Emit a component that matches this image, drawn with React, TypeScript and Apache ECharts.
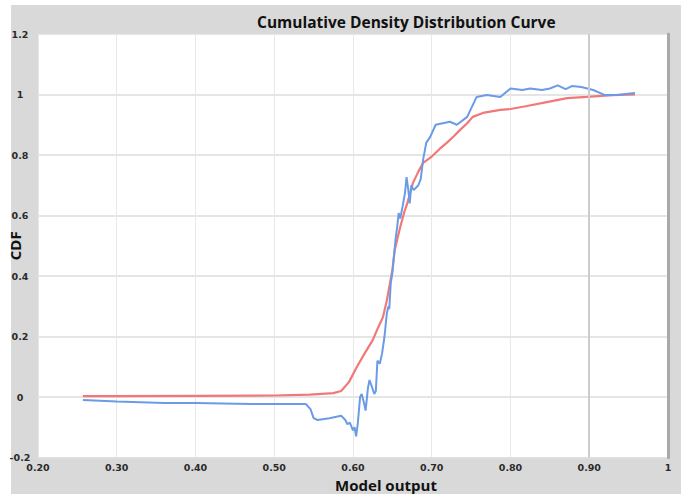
import React, { useEffect, useRef } from "react";
import * as echarts from "echarts";

const titleText = "Cumulative Density Distribution Curve";
const xAxisName = "Model output";
const yAxisName = "CDF";

const xMin = 0.2;
const xMax = 1.0;
const xInterval = 0.1;
const yMin = -0.2;
const yMax = 1.2;
const yInterval = 0.2;

// Red (smooth) CDF curve
const redX = [0.257, 0.3, 0.4, 0.5, 0.545, 0.575, 0.585, 0.595, 0.605, 0.615, 0.625, 0.632, 0.638, 0.643, 0.647, 0.65, 0.653, 0.657, 0.66, 0.665, 0.669, 0.676, 0.683, 0.689, 0.7, 0.71, 0.719, 0.728, 0.736, 0.745, 0.752, 0.765, 0.787, 0.8, 0.821, 0.846, 0.872, 0.897, 0.93, 0.958];
const redY = [0.003, 0.003, 0.004, 0.005, 0.008, 0.013, 0.02, 0.05, 0.1, 0.145, 0.188, 0.23, 0.264, 0.32, 0.377, 0.42, 0.486, 0.53, 0.562, 0.61, 0.641, 0.707, 0.745, 0.774, 0.795, 0.82, 0.84, 0.862, 0.883, 0.905, 0.926, 0.939, 0.949, 0.952, 0.962, 0.975, 0.988, 0.992, 0.998, 1.0];

// Blue (noisy) curve
const blueX = [0.257, 0.3, 0.36, 0.4, 0.47, 0.54, 0.546, 0.55, 0.555, 0.57, 0.585, 0.59, 0.593, 0.596, 0.6, 0.602, 0.604, 0.606, 0.609, 0.611, 0.614, 0.616, 0.619, 0.621, 0.624, 0.627, 0.629, 0.631, 0.634, 0.637, 0.64, 0.643, 0.645, 0.646, 0.648, 0.65, 0.654, 0.656, 0.658, 0.66, 0.663, 0.666, 0.668, 0.67, 0.672, 0.674, 0.677, 0.683, 0.686, 0.689, 0.693, 0.698, 0.705, 0.714, 0.723, 0.732, 0.745, 0.757, 0.77, 0.787, 0.8, 0.815, 0.825, 0.84, 0.85, 0.86, 0.87, 0.878, 0.89, 0.905, 0.92, 0.935, 0.958];
const blueY = [-0.01, -0.015, -0.02, -0.02, -0.023, -0.023, -0.04, -0.07, -0.076, -0.07, -0.062, -0.075, -0.09, -0.085, -0.11, -0.1, -0.13, -0.09, 0.0, 0.01, -0.02, -0.045, 0.03, 0.056, 0.034, 0.01, 0.02, 0.12, 0.11, 0.145, 0.2, 0.277, 0.3, 0.29, 0.377, 0.41, 0.52, 0.56, 0.608, 0.59, 0.63, 0.674, 0.727, 0.69, 0.64, 0.7, 0.684, 0.7, 0.72, 0.784, 0.84, 0.86, 0.9, 0.905, 0.91, 0.9, 0.926, 0.992, 0.998, 0.992, 1.02, 1.015, 1.02, 1.015, 1.02, 1.03, 1.018, 1.028, 1.025, 1.015, 0.998, 0.998, 1.005];

const redData = redX.map((x, i) => [x, redY[i]]);
const blueData = blueX.map((x, i) => [x, blueY[i]]);

export default function App() {
  const ref = useRef<HTMLDivElement>(null);
  useEffect(() => {
    if (!ref.current) return;
    const chart = echarts.init(ref.current, undefined, { renderer: "svg" });
    const labelStyle = {
      fontFamily: "DejaVu Sans",
      fontWeight: "bold" as const,
      fontSize: 9.5,
      color: "#2a2a2a",
    };
    chart.setOption({
      animation: false,
      backgroundColor: "#d9d9d9",
      title: {
        text: titleText,
        left: 252,
        top: 9,
        textStyle: {
          fontFamily: "Open Sans",
          fontWeight: "bold",
          fontSize: 15.5,
          color: "#111",
        },
      },
      graphic: [
        { type: "rect", shape: { x: 0, y: 0, width: 681, height: 5 }, style: { fill: "#ffffff" }, silent: true },
        { type: "rect", shape: { x: 0, y: 0, width: 11, height: 494 }, style: { fill: "#ffffff" }, silent: true },
        {
          type: "text",
          x: 386,
          y: 485,
          style: {
            text: xAxisName,
            fontFamily: "Open Sans",
            fontWeight: "bold",
            fontSize: 15,
            fill: "#111",
            textAlign: "center",
            textVerticalAlign: "middle",
          },
        },
      ],
      grid: {
        left: 38,
        right: 13,
        top: 34,
        bottom: 36.5,
        show: true,
        backgroundColor: "#ffffff",
        borderWidth: 0,
        containLabel: false,
        outerBoundsMode: "none",
      },
      xAxis: {
        type: "value",
        min: xMin,
        max: xMax,
        interval: xInterval,
        axisLine: { show: false },
        axisTick: { show: false },
        splitLine: { show: true, lineStyle: { color: "#e8e8e8", width: 1 } },
        axisLabel: {
          ...labelStyle,
          margin: 5,
          formatter: (v: number) => (Math.abs(v - 1) < 1e-9 ? "1" : v.toFixed(2)),
        },
      },
      yAxis: [
        {
          type: "value",
          min: yMin,
          max: yMax,
          interval: yInterval,
          name: yAxisName,
          nameLocation: "middle",
          nameGap: 16,
          nameRotate: 90,
          nameMoveOverlap: false,
          nameTextStyle: {
            fontFamily: "Open Sans",
            fontWeight: "bold",
            fontSize: 15,
            color: "#111",
          },
          axisLine: { show: false },
          axisTick: { show: false },
          splitLine: { show: true, lineStyle: { color: "#dcdcdc", width: 1.5 } },
          axisLabel: {
            ...labelStyle,
            margin: 18,
            align: "center",
            formatter: (v: number) => String(Math.round(v * 10) / 10),
          },
        },
        {
          type: "value",
          position: "right",
          min: yMin,
          max: yMax,
          interval: yInterval,
          axisLine: { show: true, lineStyle: { color: "#a9a9a9", width: 3 } },
          axisTick: { show: false },
          axisLabel: { show: false },
          splitLine: { show: false },
        },
      ],
      series: [
        {
          type: "line",
          name: "Red",
          data: redData,
          showSymbol: false,
          symbol: "none",
          lineStyle: { color: "#f27878", width: 2.2 },
          z: 3,
          markLine: {
            silent: true,
            symbol: "none",
            label: { show: false },
            lineStyle: { color: "#cdcdcd", width: 2, type: "solid" },
            data: [{ xAxis: 0.9 }],
          },
        },
        {
          type: "line",
          name: "Blue",
          data: blueData,
          showSymbol: false,
          symbol: "none",
          lineStyle: { color: "#6b9be6", width: 2 },
          z: 4,
        },
      ],
    });
    return () => chart.dispose();
  }, []);
  return (
    <div
      ref={ref}
      style={{ position: "absolute", left: 0, top: 0, width: 681, height: 494 }}
    />
  );
}
